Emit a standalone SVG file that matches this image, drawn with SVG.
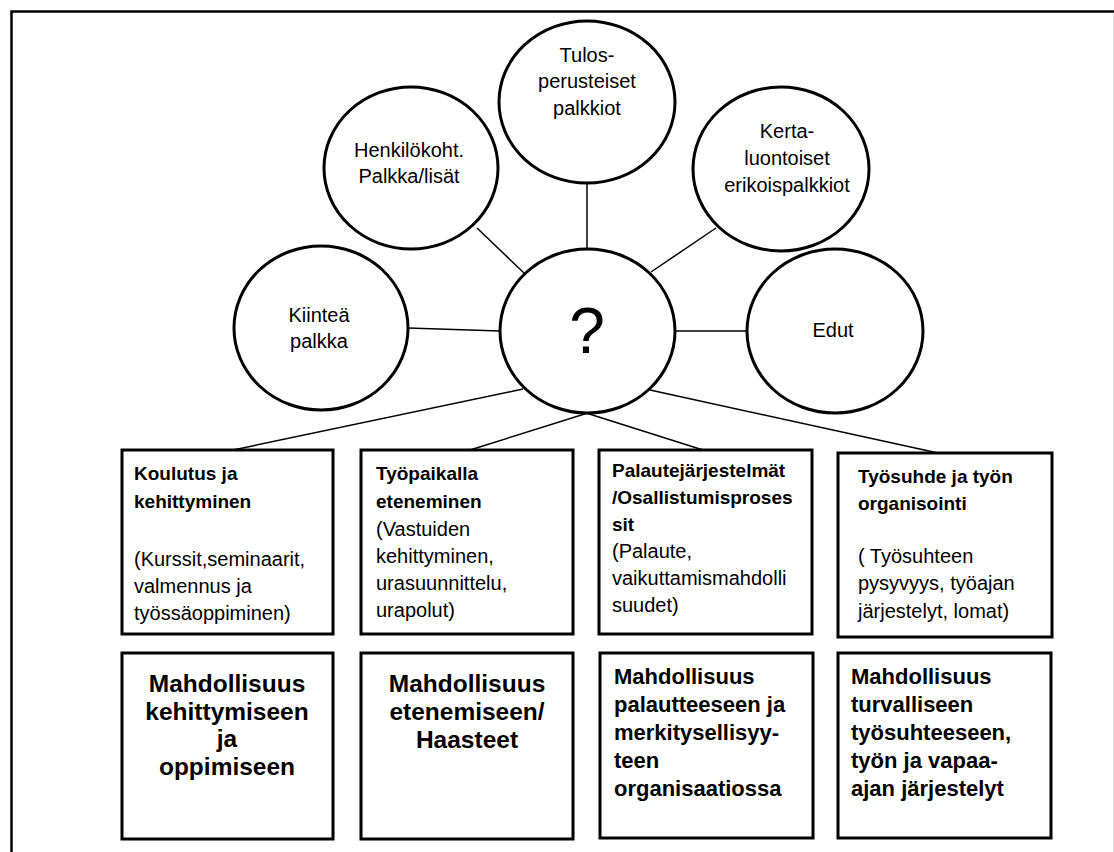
<svg xmlns="http://www.w3.org/2000/svg" width="1114" height="852" viewBox="0 0 1114 852">
  <style>
    .frame { stroke: #000; stroke-width: 2.5; fill: none; }
    .edge { stroke: #000; stroke-width: 1.5; fill: none; }
    .bubble { fill: #fff; stroke: #000; stroke-width: 3; }
    .box { fill: #fff; stroke: #000; stroke-width: 3; }
    text { font-family: "Liberation Sans", Arial, sans-serif; fill: #000; }
    .c { font-size: 20px; text-anchor: middle; }
    .q { font-size: 64px; text-anchor: middle; }
    .h { font-size: 19px; font-weight: bold; }
    .t { font-size: 20px; }
    .big { font-size: 24.5px; font-weight: bold; text-anchor: middle; }
    .mid { font-size: 22px; font-weight: bold; }
  </style>

  <rect x="0" y="0" width="1114" height="852" fill="#fff"/>

  <!-- page frame -->
  <g id="frame">
    <polyline class="frame" points="11.5,852 11.5,11.5 1114,11.5"/>
    <line x1="1113.5" y1="13" x2="1113.5" y2="852" stroke="#d9d9d9" stroke-width="1"/>
  </g>

  <!-- connectors (drawn under the bubbles) -->
  <g id="connectors">
    <line class="edge" x1="587" y1="183" x2="587" y2="249"/>
    <line class="edge" x1="477" y1="228" x2="524" y2="273"/>
    <line class="edge" x1="716" y1="228" x2="651" y2="272"/>
    <line class="edge" x1="408" y1="328" x2="500" y2="331"/>
    <line class="edge" x1="675" y1="331" x2="747" y2="331"/>
    <line class="edge" x1="523" y1="389" x2="233" y2="450"/>
    <line class="edge" x1="591" y1="412" x2="470" y2="450"/>
    <line class="edge" x1="583" y1="412" x2="703" y2="450"/>
    <line class="edge" x1="650" y1="390" x2="938" y2="453"/>
  </g>

  <!-- reward bubbles -->
  <g id="tulos">
    <ellipse class="bubble" cx="587" cy="102" rx="88" ry="81"/>
    <text class="c" x="587" y="62">Tulos-</text>
    <text class="c" x="587" y="88">perusteiset</text>
    <text class="c" x="587" y="115">palkkiot</text>
  </g>
  <g id="henkilokoht">
    <ellipse class="bubble" cx="411" cy="168" rx="87" ry="81"/>
    <text class="c" x="409" y="157">Henkilökoht.</text>
    <text class="c" x="409" y="183">Palkka/lisät</text>
  </g>
  <g id="kiintea">
    <ellipse class="bubble" cx="321" cy="328" rx="87" ry="82"/>
    <text class="c" x="319" y="322">Kiinteä</text>
    <text class="c" x="319" y="348">palkka</text>
  </g>
  <g id="kerta">
    <ellipse class="bubble" cx="781" cy="169" rx="88" ry="82"/>
    <text class="c" x="787" y="138">Kerta-</text>
    <text class="c" x="787" y="165">luontoiset</text>
    <text class="c" x="787" y="192">erikoispalkkiot</text>
  </g>
  <g id="edut">
    <ellipse class="bubble" cx="835" cy="331" rx="88" ry="82"/>
    <text class="c" x="833" y="337">Edut</text>
  </g>
  <g id="center">
    <ellipse class="bubble" cx="587.5" cy="331" rx="87.5" ry="82"/>
    <text class="q" x="587" y="353">?</text>
  </g>

  <!-- upper boxes -->
  <g id="koulutus">
    <rect class="box" x="122" y="450" width="211" height="184"/>
    <text class="h" x="134" y="480">Koulutus ja</text>
    <text class="h" x="134" y="508">kehittyminen</text>
    <text class="t" x="134" y="566">(Kurssit,seminaarit,</text>
    <text class="t" x="134" y="593">valmennus ja</text>
    <text class="t" x="134" y="620">työssäoppiminen)</text>
  </g>
  <g id="tyopaikalla">
    <rect class="box" x="361" y="450" width="212" height="184"/>
    <text class="h" x="376" y="480">Työpaikalla</text>
    <text class="h" x="376" y="508">eteneminen</text>
    <text class="t" x="376" y="536">(Vastuiden</text>
    <text class="t" x="376" y="563">kehittyminen,</text>
    <text class="t" x="376" y="590">urasuunnittelu,</text>
    <text class="t" x="376" y="617">urapolut)</text>
  </g>
  <g id="palaute">
    <rect class="box" x="599" y="450" width="213" height="184"/>
    <text class="h" x="612" y="477">Palautejärjestelmät</text>
    <text class="h" x="612" y="504">/Osallistumisproses</text>
    <text class="h" x="612" y="531">sit</text>
    <text class="t" x="612" y="558">(Palaute,</text>
    <text class="t" x="612" y="585">vaikuttamismahdolli</text>
    <text class="t" x="612" y="612">suudet)</text>
  </g>
  <g id="tyosuhde">
    <rect class="box" x="838" y="453" width="214" height="184"/>
    <text class="h" x="858" y="483">Työsuhde ja työn</text>
    <text class="h" x="858" y="510">organisointi</text>
    <text class="t" x="858" y="563">( Työsuhteen</text>
    <text class="t" x="858" y="590">pysyvyys, työajan</text>
    <text class="t" x="858" y="618">järjestelyt, lomat)</text>
  </g>

  <!-- lower boxes -->
  <g id="mahd-kehittyminen">
    <rect class="box" x="122" y="653" width="211" height="186"/>
    <text class="big" x="227" y="692">Mahdollisuus</text>
    <text class="big" x="227" y="720">kehittymiseen</text>
    <text class="big" x="227" y="747">ja</text>
    <text class="big" x="227" y="775">oppimiseen</text>
  </g>
  <g id="mahd-eteneminen">
    <rect class="box" x="361" y="653" width="212" height="186"/>
    <text class="big" x="467" y="692">Mahdollisuus</text>
    <text class="big" x="467" y="720">etenemiseen/</text>
    <text class="big" x="467" y="748">Haasteet</text>
  </g>
  <g id="mahd-palaute">
    <rect class="box" x="600" y="653" width="213" height="185"/>
    <text class="mid" x="614" y="684">Mahdollisuus</text>
    <text class="mid" x="614" y="712">palautteeseen ja</text>
    <text class="mid" x="614" y="740">merkitysellisyy-</text>
    <text class="mid" x="614" y="768">teen</text>
    <text class="mid" x="614" y="796">organisaatiossa</text>
  </g>
  <g id="mahd-tyosuhde">
    <rect class="box" x="838" y="653" width="213" height="185"/>
    <text class="mid" x="851" y="684">Mahdollisuus</text>
    <text class="mid" x="851" y="712">turvalliseen</text>
    <text class="mid" x="851" y="740">työsuhteeseen,</text>
    <text class="mid" x="851" y="768">työn ja vapaa-</text>
    <text class="mid" x="851" y="796">ajan järjestelyt</text>
  </g>
</svg>
